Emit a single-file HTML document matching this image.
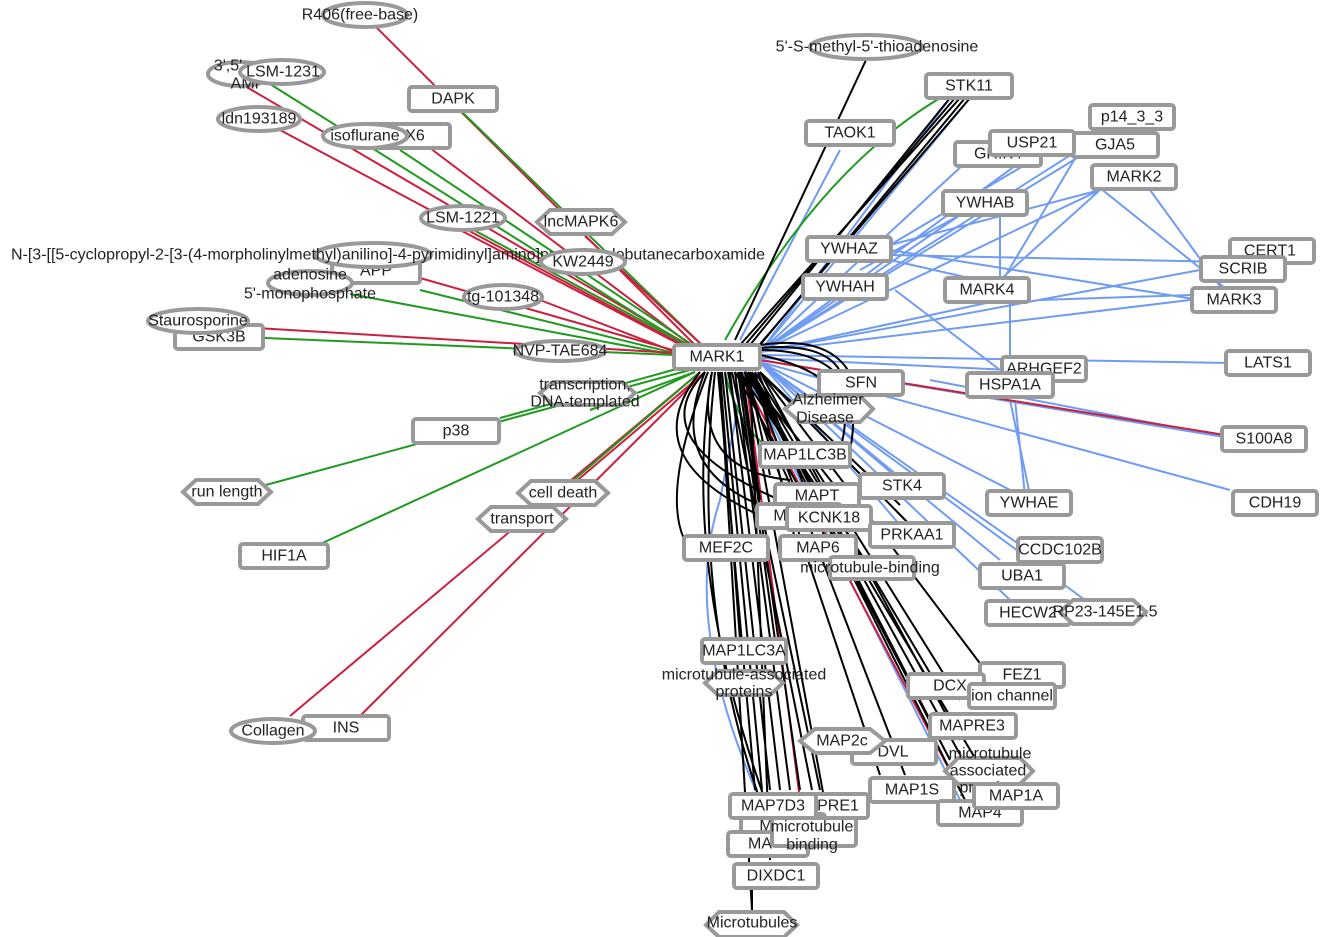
<!DOCTYPE html>
<html><head><meta charset="utf-8"><style>
html,body{margin:0;padding:0;background:#fff;width:1321px;height:937px;overflow:hidden}
text{font-family:"Liberation Sans",sans-serif;font-size:16px;fill:#222;text-anchor:middle;dominant-baseline:central}
.r{fill:#fff;stroke:#999;stroke-width:4}
.R{stroke:#cc1f40;stroke-width:2;fill:none}
.G{stroke:#1f9a1f;stroke-width:2;fill:none}
.B{stroke:#6f9cf2;stroke-width:2;fill:none}
.K{stroke:#000;stroke-width:2;fill:none}
</style></head><body>
<svg width="1321" height="937" xmlns="http://www.w3.org/2000/svg">
<g>
<path class="R" d="M376 27 L700 350"/>
<path class="G" d="M460 110 L705 348"/>
<path class="R" d="M238 82 L700 352"/>
<path class="G" d="M270 84 L700 354"/>
<path class="R" d="M280 130 L700 354"/>
<path class="R" d="M430 148 L700 352"/>
<path class="G" d="M400 150 L700 350"/>
<path class="R" d="M460 230 L700 355"/>
<path class="G" d="M470 228 L700 352"/>
<path class="R" d="M585 236 L705 348"/>
<path class="R" d="M420 278 L690 355"/>
<path class="G" d="M420 290 L690 357"/>
<path class="G" d="M350 294 L675 355"/>
<path class="R" d="M540 300 L675 352"/>
<path class="R" d="M205 325 L675 353"/>
<path class="G" d="M265 338 L675 355"/>
<path class="G" d="M680 368 L500 418"/>
<path class="G" d="M690 370 L240 492"/>
<path class="G" d="M695 372 L318 545"/>
<path class="R" d="M700 372 L290 716"/>
<path class="R" d="M705 372 L360 716"/>
<path class="G" d="M700 372 L560 492"/>
<path class="R" d="M705 372 L540 512"/>
<path class="G" d="M695 372 L590 410"/>
</g>
<g>
<path class="B" d="M760 352 L950 98"/>
<path class="B" d="M760 352 L970 98"/>
<path class="B" d="M760 352 L990 140"/>
<path class="B" d="M760 352 L1030 155"/>
<path class="B" d="M760 352 L1090 150"/>
<path class="B" d="M760 352 L1110 130"/>
<path class="B" d="M760 352 L1100 190"/>
<path class="B" d="M760 352 L960 215"/>
<path class="B" d="M760 352 L1200 270"/>
<path class="B" d="M760 352 L1190 300"/>
<path class="B" d="M760 352 L1000 300"/>
<path class="B" d="M760 355 L1230 363"/>
<path class="B" d="M760 358 L1010 370"/>
<path class="B" d="M760 360 L1230 438"/>
<path class="B" d="M760 362 L1230 490"/>
<path class="B" d="M760 362 L1020 495"/>
<path class="B" d="M760 362 L1020 545"/>
<path class="B" d="M760 362 L1000 560"/>
<path class="B" d="M760 362 L1010 600"/>
<path class="B" d="M760 362 L1085 600"/>
<path class="B" d="M760 362 L900 480"/>
<path class="B" d="M760 362 L900 525"/>
<path class="B" d="M740 340 L840 150"/>
<path class="B" d="M745 370 L720 500 Q680 620 760 800"/>
<path class="B" d="M745 370 L960 800"/>
<path class="B" d="M890 250 L1200 300 M890 255 L1230 262 M890 260 L1000 285 M895 290 L1000 370 M1100 190 L1000 280 M1100 190 L890 245 M1150 190 L1230 300 M960 215 L860 270 M1000 210 L1000 290 M1010 300 L1010 370 M1015 400 L1025 495 M1010 400 L1030 495 M930 380 L1230 438 M1050 150 L890 245 M1080 150 L1000 285 M1090 180 L1240 300 M1040 300 L1190 295"/>
</g>
<path class="R" d="M760 360 L1225 435"/>
<path class="R" d="M740 372 L960 790"/>
<path class="R" d="M745 372 L800 800"/>
<path class="G" d="M940 98 Q820 170 725 340"/>
<path class="G" d="M725 372 Q740 440 790 460"/>
<g class="K">
<path class="K" d="M866 60 L735 340"/>
<path class="K" d="M960 98 L740 345 M955 98 L745 345 M950 98 L750 345 M965 98 L760 345 M970 98 L755 350"/>
<path class="K" d="M720 372 L752 910"/>
<path class="K" d="M715 372 Q690 600 760 800 M712 372 Q680 560 765 800 M725 372 L770 790 M730 372 L780 790 M735 372 L790 790 M740 372 L800 790 M732 372 L820 790 M745 372 L830 830 M750 372 L770 860 M720 372 L740 640 M718 372 L755 790 M722 372 L762 790 M728 372 L812 790 M738 372 L775 640"/>
<path class="K" d="M745 372 L880 775 M750 372 L905 775 M752 372 L940 690 M755 372 L960 700 M760 372 L985 670 M760 372 L960 740 M750 372 L965 800 M745 372 L1000 800 M750 372 L985 800 M760 372 L900 505 M760 372 L915 530 M758 372 L830 550 M755 372 L800 560 M748 372 L950 760 M752 372 L930 720"/>
<path class="K" d="M740 372 L815 540 M745 372 L850 505 M740 372 L865 560 M735 372 L820 525 M742 372 L760 500 M748 372 L770 475"/>
<path class="K" d="M760 350 Q870 350 850 450 M760 355 Q880 380 830 470 M760 345 Q860 330 860 420 M705 372 Q640 440 780 500 M705 372 Q660 480 790 515 M712 372 Q690 470 790 480 M700 372 Q630 460 770 520 M708 372 Q650 520 700 560 M760 348 Q850 340 845 400"/>
<path class="K" d="M768 862 L772 880 M752 890 L752 910"/>
</g>
<g>
<ellipse class="r" cx="365" cy="15" rx="42" ry="12"/><text x="360" y="15">R406(free-base)</text>
<ellipse class="r" cx="240" cy="74" rx="32" ry="12"/><text x="228" y="66">3',5'</text><text x="248" y="84">AMP</text>
<ellipse class="r" cx="282" cy="72" rx="42" ry="12"/><text x="283" y="72">LSM-1231</text>
<ellipse class="r" cx="259" cy="119" rx="41" ry="12"/><text x="259" y="119">ldn193189</text>
<rect class="r" x="360" y="124" width="90" height="24" rx="3"/><text x="415" y="136">X6</text>
<ellipse class="r" cx="365" cy="136" rx="42" ry="12"/><text x="365" y="136">isoflurane</text>
<rect class="r" x="409" y="87" width="88" height="24" rx="3"/><text x="453" y="99">DAPK</text>
<ellipse class="r" cx="463" cy="218" rx="42" ry="12"/><text x="463" y="218">LSM-1221</text>
<polygon class="r" points="537,222 550,210 612,210 625,222 612,234 550,234"/><text x="581" y="222">lncMAPK6</text>
<rect class="r" x="332" y="259" width="88" height="24" rx="3"/><text x="376" y="271">APP</text>
<ellipse class="r" cx="373" cy="255" rx="58" ry="12"/>
<text x="388" y="255">N-[3-[[5-cyclopropyl-2-[3-(4-morpholinylmethyl)anilino]-4-pyrimidinyl]amino]propyl]cyclobutanecarboxamide</text>
<ellipse class="r" cx="583" cy="262" rx="42" ry="12"/><text x="583" y="262">KW2449</text>
<ellipse class="r" cx="310" cy="283" rx="42" ry="12"/><text x="310" y="275">adenosine</text><text x="310" y="294">5'-monophosphate</text>
<ellipse class="r" cx="503" cy="297" rx="39" ry="12"/><text x="503" y="297">tg-101348</text>
<rect class="r" x="175" y="325" width="88" height="24" rx="3"/><text x="219" y="337">GSK3B</text>
<ellipse class="r" cx="198" cy="321" rx="50" ry="12"/><text x="198" y="321">Staurosporine</text>
<ellipse class="r" cx="560" cy="351" rx="45" ry="10"/><text x="560" y="351">NVP-TAE684</text>
<polygon class="r" points="540,393 553,382 622,382 635,393 622,405 553,405"/><text x="585" y="385">transcription,</text><text x="585" y="402">DNA-templated</text>
<rect class="r" x="413" y="419" width="86" height="24" rx="3"/><text x="456" y="431">p38</text>
<polygon class="r" points="183,492 196,480 258,480 271,492 258,504 196,504"/><text x="227" y="492">run length</text>
<polygon class="r" points="518,493 531,481 595,481 608,493 595,505 531,505"/><text x="563" y="493">cell death</text>
<polygon class="r" points="478,519 491,507 553,507 566,519 553,531 491,531"/><text x="522" y="519">transport</text>
<rect class="r" x="240" y="544" width="88" height="24" rx="3"/><text x="284" y="556">HIF1A</text>
<rect class="r" x="303" y="716" width="86" height="24" rx="3"/><text x="346" y="728">INS</text>
<ellipse class="r" cx="273" cy="731" rx="42" ry="12"/><text x="273" y="731">Collagen</text>
<ellipse class="r" cx="866" cy="47" rx="56" ry="12"/><text x="877" y="47">5'-S-methyl-5'-thioadenosine</text>
<rect class="r" x="926" y="74" width="86" height="24" rx="3"/><text x="969" y="86">STK11</text>
<rect class="r" x="806" y="121" width="88" height="24" rx="3"/><text x="850" y="133">TAOK1</text>
<rect class="r" x="955" y="142" width="86" height="24" rx="3"/><text x="998" y="154">GRIK4</text>
<rect class="r" x="1090" y="105" width="84" height="24" rx="3"/><text x="1132" y="117">p14_3_3</text>
<rect class="r" x="1072" y="133" width="86" height="24" rx="3"/><text x="1115" y="145">GJA5</text>
<rect class="r" x="990" y="131" width="84" height="24" rx="3"/><text x="1032" y="143">USP21</text>
<rect class="r" x="1092" y="165" width="84" height="24" rx="3"/><text x="1134" y="177">MARK2</text>
<rect class="r" x="943" y="191" width="84" height="24" rx="3"/><text x="985" y="203">YWHAB</text>
<rect class="r" x="1230" y="239" width="84" height="24" rx="3"/><text x="1270" y="251">CERT1</text>
<rect class="r" x="1201" y="257" width="84" height="24" rx="3"/><text x="1243" y="269">SCRIB</text>
<rect class="r" x="1192" y="288" width="84" height="24" rx="3"/><text x="1234" y="300">MARK3</text>
<rect class="r" x="807" y="237" width="84" height="24" rx="3"/><text x="849" y="249">YWHAZ</text>
<rect class="r" x="803" y="275" width="84" height="24" rx="3"/><text x="845" y="287">YWHAH</text>
<rect class="r" x="945" y="278" width="84" height="24" rx="3"/><text x="987" y="290">MARK4</text>
<rect class="r" x="1002" y="357" width="84" height="24" rx="3"/><text x="1044" y="369">ARHGEF2</text>
<rect class="r" x="1226" y="351" width="84" height="24" rx="3"/><text x="1268" y="363">LATS1</text>
<rect class="r" x="967" y="373" width="86" height="24" rx="3"/><text x="1010" y="385">HSPA1A</text>
<rect class="r" x="1222" y="427" width="84" height="24" rx="3"/><text x="1264" y="439">S100A8</text>
<rect class="r" x="1233" y="491" width="84" height="24" rx="3"/><text x="1275" y="503">CDH19</text>
<rect class="r" x="987" y="491" width="84" height="24" rx="3"/><text x="1029" y="503">YWHAE</text>
<rect class="r" x="674" y="345" width="86" height="24" rx="3"/><text x="717" y="357">MARK1</text>
<rect class="r" x="819" y="371" width="84" height="24" rx="3"/><text x="861" y="383">SFN</text>
<polygon class="r" points="785,409 800,396 860,396 873,409 860,422 800,422"/><text x="828" y="400">Alzheimer</text><text x="825" y="418">Disease</text>
<rect class="r" x="760" y="443" width="90" height="24" rx="3"/><text x="805" y="455">MAP1LC3B</text>
<rect class="r" x="775" y="484" width="84" height="24" rx="3"/><text x="817" y="496">MAPT</text>
<rect class="r" x="860" y="474" width="84" height="24" rx="3"/><text x="902" y="486">STK4</text>
<rect class="r" x="757" y="504" width="84" height="24" rx="3"/><text x="780" y="516">M</text>
<rect class="r" x="787" y="506" width="84" height="24" rx="3"/><text x="829" y="518">KCNK18</text>
<rect class="r" x="870" y="523" width="84" height="24" rx="3"/><text x="912" y="535">PRKAA1</text>
<rect class="r" x="684" y="536" width="84" height="24" rx="3"/><text x="726" y="548">MEF2C</text>
<rect class="r" x="780" y="536" width="76" height="24" rx="3"/><text x="818" y="548">MAP6</text>
<rect class="r" x="830" y="557" width="84" height="22" rx="3"/><text x="870" y="568">microtubule-binding</text>
<rect class="r" x="1018" y="538" width="84" height="24" rx="3"/><text x="1060" y="550">CCDC102B</text>
<rect class="r" x="980" y="564" width="84" height="24" rx="3"/><text x="1022" y="576">UBA1</text>
<rect class="r" x="986" y="601" width="84" height="24" rx="3"/><text x="1028" y="613">HECW2</text>
<polygon class="r" points="1060,612 1073,600 1133,600 1146,612 1133,624 1073,624"/><text x="1105" y="612">RP23-145E1.5</text>
<rect class="r" x="702" y="639" width="84" height="24" rx="3"/><text x="744" y="651">MAP1LC3A</text>
<polygon class="r" points="705,683 718,671 770,671 783,683 770,695 718,695"/><text x="744" y="675">microtubule-associated</text><text x="744" y="692">proteins</text>
<rect class="r" x="980" y="663" width="84" height="24" rx="3"/><text x="1022" y="675">FEZ1</text>
<rect class="r" x="908" y="674" width="76" height="24" rx="3"/><text x="950" y="686">DCX</text>
<rect class="r" x="969" y="684" width="86" height="24" rx="3"/><text x="1012" y="696">ion channel</text>
<rect class="r" x="930" y="714" width="86" height="24" rx="3"/><text x="972" y="726">MAPRE3</text>
<rect class="r" x="852" y="740" width="84" height="24" rx="3"/><text x="893" y="752">DVL</text>
<polygon class="r" points="800,741 815,729 870,729 885,741 870,753 815,753"/><text x="842" y="741">MAP2c</text>
<rect class="r" x="870" y="778" width="84" height="24" rx="3"/><text x="912" y="790">MAP1S</text>
<rect class="r" x="938" y="801" width="84" height="24" rx="3"/><text x="980" y="813">MAP4</text>
<polygon class="r" points="945,771 958,758 1020,758 1033,771 1020,784 958,784"/><text x="990" y="754">microtubule</text><text x="988" y="771">associated</text><text x="988" y="788">proteins</text>
<rect class="r" x="974" y="784" width="84" height="24" rx="3"/><text x="1016" y="796">MAP1A</text>
<rect class="r" x="790" y="794" width="78" height="24" rx="3"/><text x="838" y="806">PRE1</text>
<rect class="r" x="741" y="814" width="84" height="24" rx="3"/><text x="766" y="826">M</text>
<rect class="r" x="730" y="794" width="86" height="24" rx="3"/><text x="773" y="806">MAP7D3</text>
<rect class="r" x="728" y="832" width="80" height="24" rx="3"/><text x="760" y="844">MA</text>
<rect class="r" x="772" y="818" width="84" height="28" rx="3"/><text x="812" y="827">microtubule</text><text x="812" y="845">binding</text>
<rect class="r" x="734" y="864" width="84" height="24" rx="3"/><text x="776" y="876">DIXDC1</text>
<polygon class="r" points="706,925 719,912 784,912 797,925 784,937 719,937"/><text x="752" y="923">Microtubules</text>
</g>
</svg>
</body></html>
